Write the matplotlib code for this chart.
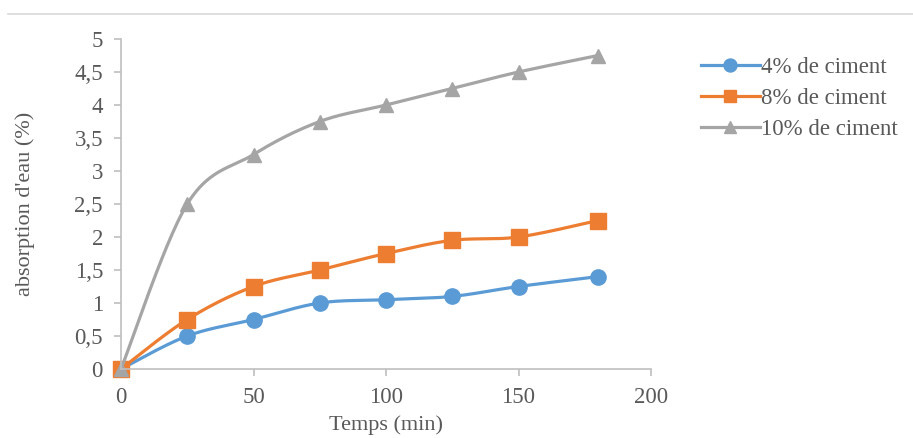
import numpy as np
import matplotlib
matplotlib.use("Agg")
from matplotlib import pyplot as plt
from matplotlib.lines import Line2D
from matplotlib.ticker import FuncFormatter, MultipleLocator

# water absorption vs. time for three cement contents
temps = [0, 25, 50, 75, 100, 125, 150, 180]
ciment_4 = [0, 0.5, 0.75, 1.0, 1.05, 1.1, 1.25, 1.4]
ciment_8 = [0, 0.75, 1.25, 1.5, 1.75, 1.95, 2.0, 2.25]
ciment_10 = [0, 2.5, 3.25, 3.75, 4.0, 4.25, 4.5, 4.75]
labels = ["4% de ciment", "8% de ciment", "10% de ciment"]

colors = ["#5B9BD5", "#ED7D31", "#A5A5A5"]
markers = ["o", "s", "^"]
msizes = [11, 11, 10]
text_color = "#595959"
axis_color = "#BFBFBF"

plt.rcParams["font.family"] = ["Liberation Serif", "DejaVu Serif"]


def smooth(x, y, n=30):
    """Spreadsheet-style smoothed line: cubic Bezier through each point."""
    x = np.asarray(x, float)
    y = np.asarray(y, float)
    px = np.concatenate([[x[0]], x, [x[-1]]])
    py = np.concatenate([[y[0]], y, [y[-1]]])
    t = np.linspace(0, 1, n)[:, None]
    xs, ys = [], []
    for i in range(1, len(px) - 2):
        p0 = np.array([px[i], py[i]])
        p3 = np.array([px[i + 1], py[i + 1]])
        c1 = p0 + (p3 - np.array([px[i - 1], py[i - 1]])) / 6
        c2 = p3 - (np.array([px[i + 2], py[i + 2]]) - p0) / 6
        seg = ((1 - t) ** 3) * p0 + 3 * ((1 - t) ** 2) * t * c1 \
            + 3 * (1 - t) * t ** 2 * c2 + t ** 3 * p3
        xs.append(seg[:, 0])
        ys.append(seg[:, 1])
    return np.concatenate(xs), np.concatenate(ys)


fig = plt.figure(figsize=(9.13, 4.38), dpi=100)
ax = fig.add_axes([121 / 913, 1 - 369 / 438, 530 / 913, 330 / 438])

handles = []
for ys, c, m, ms, lab in zip([ciment_4, ciment_8, ciment_10], colors, markers, msizes, labels):
    sx, sy = smooth(temps, ys)
    ax.plot(sx, sy, color=c, linewidth=2.3, clip_on=False, solid_capstyle="round")
    ax.plot(temps, ys, linestyle="none", marker=m, markersize=ms, color=c,
            markeredgecolor=c, clip_on=False)
    handles.append(Line2D([], [], color=c, linewidth=2.3, marker=m,
                          markersize=ms * 0.85, markeredgecolor=c, label=lab))

ax.set_xlim(0, 200)
ax.set_ylim(0, 5)
ax.xaxis.set_major_locator(MultipleLocator(50))
ax.yaxis.set_major_locator(MultipleLocator(0.5))
ax.yaxis.set_major_formatter(FuncFormatter(lambda v, p: f"{v:g}".replace(".", ",")))

for side in ["top", "right"]:
    ax.spines[side].set_visible(False)
for side in ["left", "bottom"]:
    ax.spines[side].set_color(axis_color)
    ax.spines[side].set_linewidth(1.2)
ax.tick_params(axis="both", colors=axis_color, labelcolor=text_color,
               labelsize=16.5, length=5, width=1.2, direction="out")
ax.tick_params(axis="y", pad=8)
ax.tick_params(axis="x", pad=8)

ax.set_xlabel("Temps (min)", fontsize=16, color=text_color, labelpad=5)
ax.set_ylabel("absorption d'eau (%)", fontsize=16, color=text_color, labelpad=28)

fig.legend(handles=handles, loc="upper left", bbox_to_anchor=(680 / 913, 1 - 36 / 438),
           frameon=False, fontsize=16.5, handlelength=2.6, handletextpad=0.05,
           labelspacing=0.45, labelcolor=text_color)

# thin separator line along the top
fig.add_artist(Line2D([8 / 913, 1], [1 - 14 / 438, 1 - 14 / 438],
                      color="#D9D9D9", linewidth=1.2))

fig.savefig("out.png", dpi=100)
